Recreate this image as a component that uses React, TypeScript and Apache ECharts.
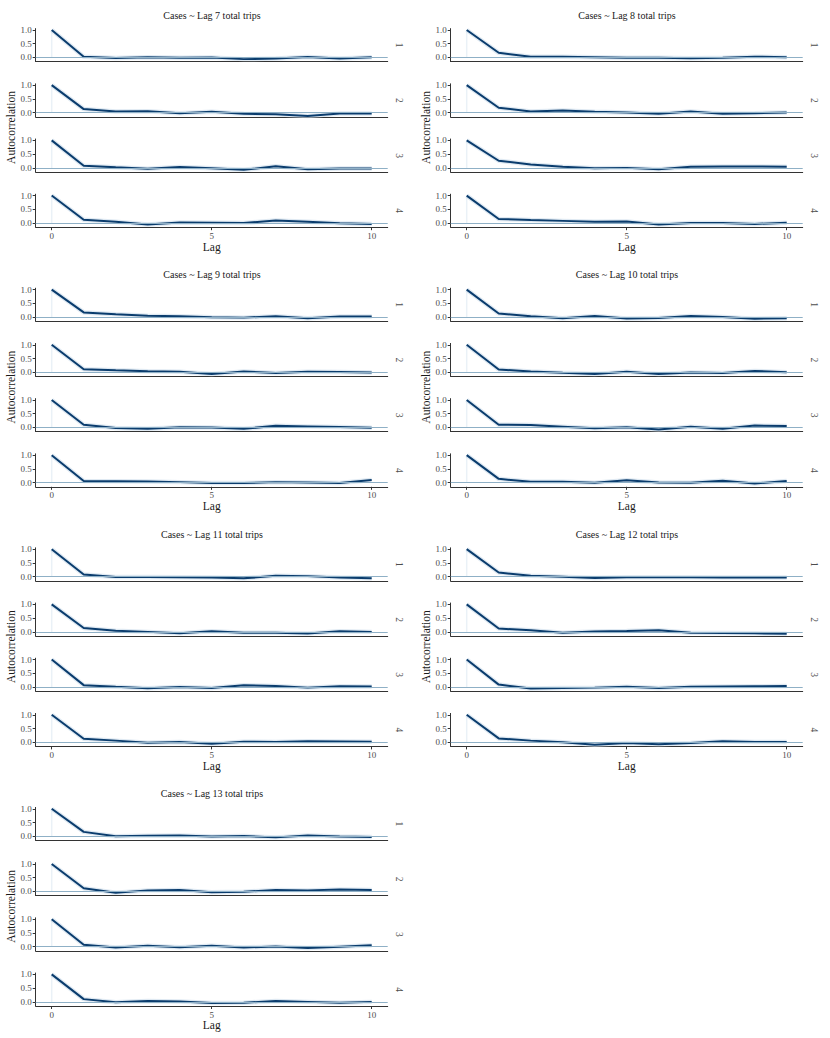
import React, { useEffect, useRef } from "react";
import * as echarts from "echarts";

const lags = [0, 1, 2, 3, 4, 5, 6, 7, 8, 9, 10];
const facetLabels = ["1", "2", "3", "4"];
const panelTitles = [
  "Cases ~ Lag 7 total trips",
  "Cases ~ Lag 8 total trips",
  "Cases ~ Lag 9 total trips",
  "Cases ~ Lag 10 total trips",
  "Cases ~ Lag 11 total trips",
  "Cases ~ Lag 12 total trips",
  "Cases ~ Lag 13 total trips",
];
const yTicks = [0, 0.5, 1];
const xTicks = [0, 5, 10];

const acfLag7 = [
  [1, 0.03, -0.02, 0.01, -0.01, 0.0, -0.06, -0.04, 0.02, -0.04, 0.01],
  [1, 0.13, 0.04, 0.05, -0.02, 0.03, -0.04, -0.06, -0.12, -0.03, -0.03],
  [1, 0.08, 0.02, -0.03, 0.03, -0.01, -0.07, 0.06, -0.05, -0.02, -0.02],
  [1, 0.12, 0.05, -0.05, 0.02, 0.01, 0.0, 0.09, 0.05, -0.01, -0.03],
];
const acfLag8 = [
  [1, 0.17, 0.03, 0.03, 0.01, -0.01, -0.01, -0.03, -0.01, 0.03, 0.01],
  [1, 0.18, 0.04, 0.08, 0.03, 0.01, -0.04, 0.04, -0.04, -0.02, 0.01],
  [1, 0.26, 0.12, 0.04, -0.01, 0.0, -0.05, 0.04, 0.05, 0.05, 0.04],
  [1, 0.15, 0.11, 0.08, 0.05, 0.06, -0.05, 0.0, 0.0, -0.03, 0.01],
];
const acfLag9 = [
  [1, 0.17, 0.1, 0.05, 0.03, -0.01, -0.02, 0.03, -0.04, 0.02, 0.02],
  [1, 0.11, 0.07, 0.04, 0.02, -0.06, 0.03, -0.03, 0.02, 0.01, -0.01],
  [1, 0.1, -0.02, -0.05, 0.01, 0.0, -0.05, 0.06, 0.04, 0.02, -0.01],
  [1, 0.06, 0.05, 0.04, 0.02, -0.01, -0.01, 0.02, 0.01, -0.01, 0.1],
];
const acfLag10 = [
  [1, 0.13, 0.03, -0.04, 0.04, -0.05, -0.03, 0.04, 0.0, -0.06, -0.04],
  [1, 0.1, 0.03, -0.02, -0.06, 0.02, -0.06, -0.01, -0.03, 0.05, 0.0],
  [1, 0.1, 0.09, 0.03, -0.03, 0.01, -0.07, 0.03, -0.05, 0.07, 0.05],
  [1, 0.14, 0.03, 0.03, 0.0, 0.09, 0.01, 0.0, 0.07, -0.03, 0.06],
];
const acfLag11 = [
  [1, 0.08, -0.01, -0.01, -0.02, -0.03, -0.06, 0.03, 0.02, -0.03, -0.06],
  [1, 0.14, 0.04, 0.0, -0.05, 0.02, -0.03, -0.03, -0.06, 0.02, 0.0],
  [1, 0.07, 0.01, -0.04, 0.0, -0.03, 0.07, 0.04, -0.02, 0.03, 0.02],
  [1, 0.13, 0.06, -0.02, 0.01, -0.05, 0.02, 0.01, 0.04, 0.03, 0.02],
];
const acfLag12 = [
  [1, 0.15, 0.03, 0.0, -0.05, -0.02, -0.02, -0.02, -0.03, -0.03, -0.03],
  [1, 0.12, 0.06, -0.03, 0.01, 0.03, 0.06, -0.03, -0.04, -0.05, -0.07],
  [1, 0.09, -0.05, -0.03, -0.02, 0.01, -0.03, 0.01, 0.02, 0.03, 0.04],
  [1, 0.14, 0.06, 0.0, -0.09, -0.03, -0.07, -0.03, 0.04, 0.01, 0.01],
];
const acfLag13 = [
  [1, 0.16, 0.0, 0.02, 0.03, -0.01, 0.01, -0.04, 0.03, -0.01, -0.03],
  [1, 0.12, -0.05, 0.04, 0.05, -0.03, -0.01, 0.05, 0.04, 0.07, 0.05],
  [1, 0.07, -0.03, 0.03, -0.02, 0.03, -0.03, 0.01, -0.05, 0.0, 0.05],
  [1, 0.1, -0.01, 0.03, 0.01, -0.04, -0.03, 0.03, 0.0, -0.03, 0.0],
];

const panels = [acfLag7, acfLag8, acfLag9, acfLag10, acfLag11, acfLag12, acfLag13];

const FONT = "'Liberation Serif', 'DejaVu Serif', serif";
const LINE = "#0a3c6d";
const ZERO = "#8fb0c6";
const AXIS = "#333333";
const TXT = "#4d4d4d";

export default function App() {
  const ref = useRef<HTMLDivElement>(null);
  useEffect(() => {
    if (!ref.current) return;
    const chart = echarts.init(ref.current, null, { renderer: "svg" });
    const grid: any[] = [];
    const xAxis: any[] = [];
    const yAxis: any[] = [];
    const series: any[] = [];
    const graphic: any[] = [];
    const colW = 415;
    const rowH = 259.6;
    const facetStep = 55.2;
    const facetH = 33;
    const plotLeft = 35.7;
    const plotW = 352;
    panels.forEach((panel, p) => {
      const ox = (p % 2) * colW;
      const oy = Math.floor(p / 2) * rowH;
      graphic.push({
        type: "text",
        x: ox + 212,
        y: oy + 15,
        style: { text: panelTitles[p], fill: "#1a1a1a", fontSize: 10, fontFamily: FONT, align: "center", verticalAlign: "middle" },
      });
      graphic.push({
        type: "text",
        x: ox + 10.5,
        y: oy + 127.5,
        rotation: Math.PI / 2,
        style: { text: "Autocorrelation", fill: "#1a1a1a", fontSize: 11.5, fontFamily: FONT, align: "center", verticalAlign: "middle" },
      });
      graphic.push({
        type: "text",
        x: ox + plotLeft + plotW / 2,
        y: oy + 246.5,
        style: { text: "Lag", fill: "#1a1a1a", fontSize: 11.5, fontFamily: FONT, align: "center", verticalAlign: "middle" },
      });
      panel.forEach((vals, k) => {
        const gi = grid.length;
        const top = oy + 28.6 + k * facetStep;
        const bottomFacet = k === panel.length - 1;
        grid.push({ left: ox + plotLeft, top, width: plotW, height: facetH });
        graphic.push({
          type: "text",
          x: ox + 398.5,
          y: top + facetH / 2,
          rotation: -Math.PI / 2,
          style: { text: facetLabels[k], fill: TXT, fontSize: 9.5, fontFamily: FONT, align: "center", verticalAlign: "middle" },
        });
        xAxis.push({
          type: "value",
          gridIndex: gi,
          min: -0.5,
          max: 10.5,
          splitLine: { show: false },
          axisLine: { show: true, onZero: false, lineStyle: { color: AXIS, width: 1 } },
          axisTick: bottomFacet
            ? { show: true, length: 3, customValues: xTicks, lineStyle: { color: AXIS } }
            : { show: false },
          axisLabel: bottomFacet
            ? { show: true, customValues: xTicks, margin: 4, fontSize: 9, fontFamily: FONT, color: TXT }
            : { show: false },
        });
        yAxis.push({
          type: "value",
          gridIndex: gi,
          min: -0.15,
          max: 1.05,
          splitLine: { show: false },
          axisLine: { show: true, onZero: false, lineStyle: { color: AXIS, width: 1 } },
          axisTick: { show: true, length: 3, customValues: yTicks, lineStyle: { color: AXIS } },
          axisLabel: {
            show: true,
            customValues: yTicks,
            margin: 4,
            fontSize: 9,
            fontFamily: FONT,
            color: TXT,
            formatter: (v: number) => v.toFixed(1),
          },
        });
        series.push({
          type: "line",
          xAxisIndex: gi,
          yAxisIndex: gi,
          data: [
            [0, 0],
            [0, vals[0]],
          ],
          symbol: "none",
          silent: true,
          lineStyle: { color: "#eaf1f7", width: 1.5 },
          z: 1,
        });
        series.push({
          type: "line",
          xAxisIndex: gi,
          yAxisIndex: gi,
          data: lags.map((l, i) => [l, vals[i]]),
          symbol: "none",
          silent: true,
          lineStyle: { color: "#c9dbea", width: 4.5, opacity: 0.6 },
          z: 2,
          markLine: {
            silent: true,
            symbol: "none",
            label: { show: false },
            lineStyle: { color: ZERO, width: 1.2, type: "solid" },
            data: [{ yAxis: 0 }],
          },
        });
        series.push({
          type: "line",
          xAxisIndex: gi,
          yAxisIndex: gi,
          data: lags.map((l, i) => [l, vals[i]]),
          symbol: "none",
          silent: true,
          lineStyle: { color: LINE, width: 2 },
          z: 3,
        });
      });
    });
    chart.setOption({
      animation: false,
      backgroundColor: "#ffffff",
      grid,
      xAxis,
      yAxis,
      series,
      graphic,
    });
    return () => chart.dispose();
  }, []);
  return (
    <div
      ref={ref}
      style={{ position: "absolute", left: 0, top: 0, width: 830, height: 1038, background: "#fff" }}
    />
  );
}
